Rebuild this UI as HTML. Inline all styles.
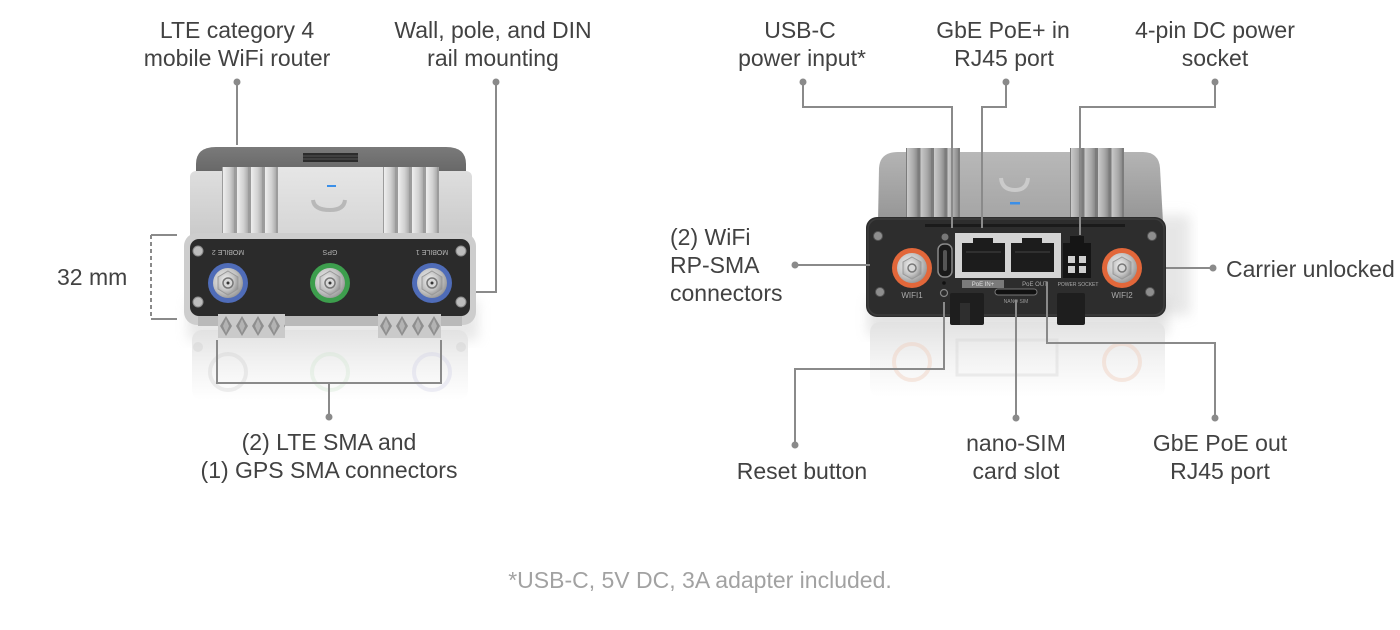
<!DOCTYPE html>
<html><head><meta charset="utf-8"><style>
html,body{margin:0;padding:0;background:#fff;}
svg{display:block;}
text{font-family:"Liberation Sans",Arial,sans-serif;}
.l{font-size:23px;fill:#424242;}
.c{text-anchor:middle;}
.ln{stroke:#8a8a8a;stroke-width:2;fill:none;}
.dt{fill:#8a8a8a;}
.tiny{font-size:7px;fill:#b5b5b5;text-anchor:middle;}
</style></head><body>
<svg width="1400" height="630" viewBox="0 0 1400 630" xmlns="http://www.w3.org/2000/svg">
<defs>
  <linearGradient id="silver" x1="0" y1="0" x2="0" y2="1">
    <stop offset="0" stop-color="#dedede"/><stop offset="1" stop-color="#c8c8c8"/>
  </linearGradient>
  <linearGradient id="panelL" x1="0" y1="0" x2="0" y2="1">
    <stop offset="0" stop-color="#e6e6e6"/><stop offset="1" stop-color="#d4d4d4"/>
  </linearGradient>
  <linearGradient id="lid" x1="0" y1="0" x2="0" y2="1">
    <stop offset="0" stop-color="#7a7a7a"/><stop offset="1" stop-color="#5e5e5e"/>
  </linearGradient>
  <linearGradient id="finG" x1="0" y1="0" x2="1" y2="0">
    <stop offset="0" stop-color="#eeeeee"/><stop offset="0.6" stop-color="#d2d2d2"/><stop offset="1" stop-color="#acacac"/>
  </linearGradient>
  <pattern id="finL" patternUnits="userSpaceOnUse" x="222" y="0" width="14" height="100">
    <rect x="0" y="0" width="14" height="100" fill="#9c9c9c"/>
    <rect x="1" y="0" width="11" height="100" fill="url(#finG)"/>
  </pattern>
  <pattern id="finL2" patternUnits="userSpaceOnUse" x="383" y="0" width="14" height="100">
    <rect x="0" y="0" width="14" height="100" fill="#9c9c9c"/>
    <rect x="1" y="0" width="11" height="100" fill="url(#finG)"/>
  </pattern>
  <linearGradient id="finGR" x1="0" y1="0" x2="1" y2="0">
    <stop offset="0" stop-color="#cacaca"/><stop offset="0.6" stop-color="#ababab"/><stop offset="1" stop-color="#8a8a8a"/>
  </linearGradient>
  <pattern id="finR" patternUnits="userSpaceOnUse" x="906" y="0" width="13.5" height="100">
    <rect x="0" y="0" width="13.5" height="100" fill="#7c7c7c"/>
    <rect x="1" y="0" width="10.5" height="100" fill="url(#finGR)"/>
  </pattern>
  <pattern id="finR2" patternUnits="userSpaceOnUse" x="1070" y="0" width="13.5" height="100">
    <rect x="0" y="0" width="13.5" height="100" fill="#7c7c7c"/>
    <rect x="1" y="0" width="10.5" height="100" fill="url(#finGR)"/>
  </pattern>
  <linearGradient id="topR" x1="0" y1="0" x2="0" y2="1">
    <stop offset="0" stop-color="#b4b4b4"/><stop offset="1" stop-color="#959595"/>
  </linearGradient>
  <linearGradient id="panelR" x1="0" y1="0" x2="0" y2="1">
    <stop offset="0" stop-color="#b8b8b8"/><stop offset="1" stop-color="#a4a4a4"/>
  </linearGradient>
  <linearGradient id="refl" x1="0" y1="0" x2="0" y2="1">
    <stop offset="0" stop-color="#e2e2e2"/><stop offset="0.5" stop-color="#f3f3f3"/><stop offset="1" stop-color="#ffffff"/>
  </linearGradient>
  <radialGradient id="metal" cx="0.4" cy="0.4" r="0.7">
    <stop offset="0" stop-color="#f4f4f4"/><stop offset="0.6" stop-color="#c2c2c2"/><stop offset="1" stop-color="#8a8a8a"/>
  </radialGradient>
  <pattern id="diam" patternUnits="userSpaceOnUse" x="218" y="314" width="16" height="24">
    <rect width="16" height="24" fill="#cacaca"/>
    <polygon points="8,2 14,12 8,22 2,12" fill="#8f8f8f"/>
    <polygon points="8,5 11,12 8,19 5,12" fill="#b3b3b3"/>
  </pattern>
  <filter id="blur" x="-20%" y="-20%" width="140%" height="140%"><feGaussianBlur stdDeviation="6"/></filter>
</defs>

<!-- ============ LEFT DEVICE ============ -->
<rect x="188" y="300" width="290" height="40" fill="#bdbdbd" opacity="0.35" filter="url(#blur)"/>
<rect x="192" y="330" width="276" height="70" rx="10" fill="url(#refl)"/>
<g opacity="0.35">
  <circle cx="228" cy="372" r="18" fill="none" stroke="#cfcfcf" stroke-width="4"/>
  <circle cx="330" cy="372" r="18" fill="none" stroke="#cfe6cf" stroke-width="4"/>
  <circle cx="432" cy="372" r="18" fill="none" stroke="#cfcfe6" stroke-width="4"/>
  <circle cx="198" cy="347" r="5" fill="#ccc"/>
  <circle cx="461" cy="347" r="5" fill="#ccc"/>
</g>
<path d="M196,185 L196,164 Q196,147 216,147 L446,147 Q466,147 466,164 L466,185 Z" fill="url(#lid)"/>
<rect x="303" y="153" width="55" height="9" fill="#2c2c2c"/>
<line x1="303" y1="156" x2="358" y2="156" stroke="#555" stroke-width="1"/>
<line x1="303" y1="159" x2="358" y2="159" stroke="#555" stroke-width="1"/>
<rect x="190" y="171" width="282" height="72" rx="6" fill="url(#silver)"/>
<rect x="222" y="167" width="56" height="74" fill="url(#finL)"/>
<rect x="383" y="167" width="56" height="74" fill="url(#finL2)"/>
<rect x="278" y="167" width="105" height="74" fill="url(#panelL)"/>
<rect x="327" y="185" width="9" height="2" fill="#3b8fe8"/>
<path d="M313,200 Q314,210 330,210 Q344,210 345,200" fill="none" stroke="#b8b8b8" stroke-width="4"/>
<rect x="184" y="233" width="292" height="92" rx="13" fill="#cdcdcd"/>
<rect x="190" y="239" width="280" height="77" rx="9" fill="#2b2b2b"/>
<rect x="198" y="316" width="264" height="10" fill="#b9b9b9"/>
<rect x="218" y="314" width="67" height="24" fill="url(#diam)"/>
<rect x="378" y="314" width="63" height="24" fill="url(#diam)"/>
<g fill="#bdbdbd" stroke="#8a8a8a" stroke-width="1">
  <circle cx="198" cy="251" r="5"/><circle cx="461" cy="251" r="5"/>
  <circle cx="198" cy="302" r="5"/><circle cx="461" cy="302" r="5"/>
</g>
<g>
  <circle cx="228" cy="283" r="20" fill="#4f6cb8"/>
  <circle cx="228" cy="283" r="15" fill="url(#metal)"/>
  <polygon points="228,271 238,277 238,289 228,295 218,289 218,277" fill="url(#metal)" stroke="#999" stroke-width="1"/>
  <circle cx="228" cy="283" r="5" fill="#d8d8d8" stroke="#777" stroke-width="1.5"/>
  <circle cx="228" cy="283" r="1.5" fill="#333"/>
</g>
<g>
  <circle cx="330" cy="283" r="20" fill="#3d9e4d"/>
  <circle cx="330" cy="283" r="15" fill="url(#metal)"/>
  <polygon points="330,271 340,277 340,289 330,295 320,289 320,277" fill="url(#metal)" stroke="#999" stroke-width="1"/>
  <circle cx="330" cy="283" r="5" fill="#d8d8d8" stroke="#777" stroke-width="1.5"/>
  <circle cx="330" cy="283" r="1.5" fill="#333"/>
</g>
<g>
  <circle cx="432" cy="283" r="20" fill="#4f6cb8"/>
  <circle cx="432" cy="283" r="15" fill="url(#metal)"/>
  <polygon points="432,271 442,277 442,289 432,295 422,289 422,277" fill="url(#metal)" stroke="#999" stroke-width="1"/>
  <circle cx="432" cy="283" r="5" fill="#d8d8d8" stroke="#777" stroke-width="1.5"/>
  <circle cx="432" cy="283" r="1.5" fill="#333"/>
</g>
<text class="tiny" transform="translate(228,250) rotate(180)">MOBILE 2</text>
<text class="tiny" transform="translate(330,250) rotate(180)">GPS</text>
<text class="tiny" transform="translate(432,250) rotate(180)">MOBILE 1</text>

<!-- ============ RIGHT DEVICE ============ -->
<rect x="1150" y="215" width="40" height="100" fill="#cfcfcf" opacity="0.5" filter="url(#blur)"/>
<rect x="868" y="300" width="300" height="35" fill="#bdbdbd" opacity="0.4" filter="url(#blur)"/>
<rect x="870" y="322" width="295" height="75" rx="10" fill="url(#refl)"/>
<g opacity="0.4">
  <circle cx="912" cy="362" r="18" fill="none" stroke="#f0cbb8" stroke-width="4"/>
  <circle cx="1122" cy="362" r="18" fill="none" stroke="#f0cbb8" stroke-width="4"/>
  <rect x="957" y="340" width="100" height="35" fill="none" stroke="#d6d6d6" stroke-width="3"/>
</g>
<path d="M878,222 L879,168 Q880,152 898,152 L1142,152 Q1159,152 1160,168 L1163,222 Z" fill="url(#topR)"/>
<rect x="906" y="148" width="54" height="74" fill="url(#finR)"/>
<rect x="1070" y="148" width="54" height="74" fill="url(#finR2)"/>
<rect x="960" y="152" width="110" height="70" fill="url(#panelR)"/>
<path d="M1001,178 Q1002,190 1015,190 Q1027,190 1028,178" fill="none" stroke="#cbcbcb" stroke-width="4"/>
<rect x="1010" y="202" width="10" height="2.5" fill="#3b8fe8"/>
<rect x="866" y="217" width="300" height="100" rx="11" fill="#2d2d2d"/>
<rect x="868" y="219" width="296" height="96" rx="10" fill="none" stroke="#3c3c3c" stroke-width="1.5"/>
<rect x="925" y="224" width="200" height="3" fill="#1a1a1a"/>
<g fill="#8e8e8e" stroke="#555" stroke-width="1">
  <circle cx="878" cy="236" r="4.5"/><circle cx="1152" cy="236" r="4.5"/>
  <circle cx="880" cy="292" r="4.5"/><circle cx="1150" cy="292" r="4.5"/>
</g>
<g>
  <circle cx="912" cy="268" r="20" fill="#e2673a"/>
  <circle cx="912" cy="268" r="15" fill="url(#metal)"/>
  <polygon points="912,257 921,262 921,274 912,279 903,274 903,262" fill="url(#metal)" stroke="#999" stroke-width="1"/>
  <circle cx="912" cy="268" r="4" fill="#d8d8d8" stroke="#777" stroke-width="1.5"/>
</g>
<g>
  <circle cx="1122" cy="268" r="20" fill="#e2673a"/>
  <circle cx="1122" cy="268" r="15" fill="url(#metal)"/>
  <polygon points="1122,257 1131,262 1131,274 1122,279 1113,274 1113,262" fill="url(#metal)" stroke="#999" stroke-width="1"/>
  <circle cx="1122" cy="268" r="4" fill="#d8d8d8" stroke="#777" stroke-width="1.5"/>
</g>
<text x="912" y="298" class="tiny" style="font-size:8px;fill:#aaa">WIFI1</text>
<text x="1122" y="298" class="tiny" style="font-size:8px;fill:#aaa">WIFI2</text>
<circle cx="945" cy="237" r="3.5" fill="#777"/>
<rect x="938" y="244" width="14" height="33" rx="6" fill="#1a1a1a" stroke="#8a8a8a" stroke-width="1.5"/>
<rect x="943" y="250" width="4" height="21" rx="2" fill="#555"/>
<rect x="955" y="233" width="106" height="45" fill="#d4d4d4"/>
<path d="M962,243 L973,243 L973,238 L993,238 L993,243 L1005,243 L1005,272 L962,272 Z" fill="#1c1c1c"/>
<path d="M1011,243 L1022,243 L1022,238 L1042,238 L1042,243 L1054,243 L1054,272 L1011,272 Z" fill="#1c1c1c"/>
<g stroke="#444" stroke-width="1">
  <line x1="966" y1="252" x2="1001" y2="252"/><line x1="1015" y1="252" x2="1050" y2="252"/>
</g>
<rect x="1063" y="243" width="28" height="35" fill="#151515"/>
<rect x="1070" y="236" width="14" height="8" fill="#151515"/>
<g fill="#cfcfcf">
  <rect x="1068" y="256" width="7" height="7"/><rect x="1079" y="256" width="7" height="7"/>
  <rect x="1068" y="266" width="7" height="7"/><rect x="1079" y="266" width="7" height="7"/>
</g>
<rect x="962" y="280" width="42" height="8" fill="#7a7a7a"/>
<text x="983" y="286" class="tiny" style="fill:#ddd;font-size:6px">PoE IN+</text>
<text x="1035" y="286" class="tiny" style="font-size:6px;fill:#aaa">PoE OUT</text>
<text x="1078" y="286" class="tiny" style="font-size:5px;fill:#aaa">POWER SOCKET</text>
<rect x="995" y="289" width="42" height="6" rx="3" fill="#111" stroke="#777" stroke-width="1"/>
<text x="1016" y="303" class="tiny" style="font-size:5px;fill:#999">NANO SIM</text>
<circle cx="944" cy="283" r="1.8" fill="#111"/>
<circle cx="944" cy="293" r="3.5" fill="none" stroke="#888" stroke-width="1.2"/>
<rect x="950" y="293" width="34" height="32" rx="2" fill="#1e1e1e"/>
<rect x="1057" y="293" width="28" height="32" rx="2" fill="#1e1e1e"/>
<rect x="960" y="303" width="10" height="22" fill="#2e2e2e"/>

<!-- ============ CONNECTOR LINES ============ -->
<g class="ln">
  <path d="M237,82 V145"/>
  <path d="M496,82 V292 H476"/>
  <path d="M177,235 H151"/><path d="M177,319 H151"/>
  <path d="M151,235 V319" stroke-dasharray="4,3"/>
  <path d="M217,340 V383 H441 V340"/>
  <path d="M329,383 V417"/>
  <path d="M803,82 V107 H952 V228"/>
  <path d="M1006,82 V107 H982 V228"/>
  <path d="M1215,82 V107 H1080 V235"/>
  <path d="M795,265 H870"/>
  <path d="M1166,268 H1213"/>
  <path d="M944,302 V369 H795 V445"/>
  <path d="M1016,300 V418"/>
  <path d="M1047,282 V343 H1215 V418"/>
</g>
<g class="dt">
  <circle cx="237" cy="82" r="3.5"/><circle cx="496" cy="82" r="3.5"/>
  <circle cx="329" cy="417" r="3.5"/>
  <circle cx="803" cy="82" r="3.5"/><circle cx="1006" cy="82" r="3.5"/><circle cx="1215" cy="82" r="3.5"/>
  <circle cx="795" cy="265" r="3.5"/><circle cx="1213" cy="268" r="3.5"/>
  <circle cx="795" cy="445" r="3.5"/><circle cx="1016" cy="418" r="3.5"/><circle cx="1215" cy="418" r="3.5"/>
</g>

<!-- ============ LABELS ============ -->
<text class="l c" x="237" y="38">LTE category 4</text>
<text class="l c" x="237" y="66">mobile WiFi router</text>
<text class="l c" x="493" y="38">Wall, pole, and DIN</text>
<text class="l c" x="493" y="66">rail mounting</text>
<text class="l" x="57" y="285">32 mm</text>
<text class="l c" x="329" y="450">(2) LTE SMA and</text>
<text class="l c" x="329" y="478">(1) GPS SMA connectors</text>

<text class="l c" x="800" y="38">USB-C</text>
<text class="l c" x="802" y="66">power input*</text>
<text class="l c" x="1003" y="38">GbE PoE+ in</text>
<text class="l c" x="1004" y="66">RJ45 port</text>
<text class="l c" x="1215" y="38">4-pin DC power</text>
<text class="l c" x="1215" y="66">socket</text>
<text class="l" x="670" y="245">(2) WiFi</text>
<text class="l" x="670" y="273">RP-SMA</text>
<text class="l" x="670" y="301">connectors</text>
<text class="l" x="1226" y="277">Carrier unlocked</text>
<text class="l c" x="802" y="479">Reset button</text>
<text class="l c" x="1016" y="451">nano-SIM</text>
<text class="l c" x="1016" y="479">card slot</text>
<text class="l c" x="1220" y="451">GbE PoE out</text>
<text class="l c" x="1220" y="479">RJ45 port</text>

<text x="700" y="588" class="c" style="font-size:23px;fill:#a2a2a2;">*USB-C, 5V DC, 3A adapter included.</text>
</svg>
</body></html>
